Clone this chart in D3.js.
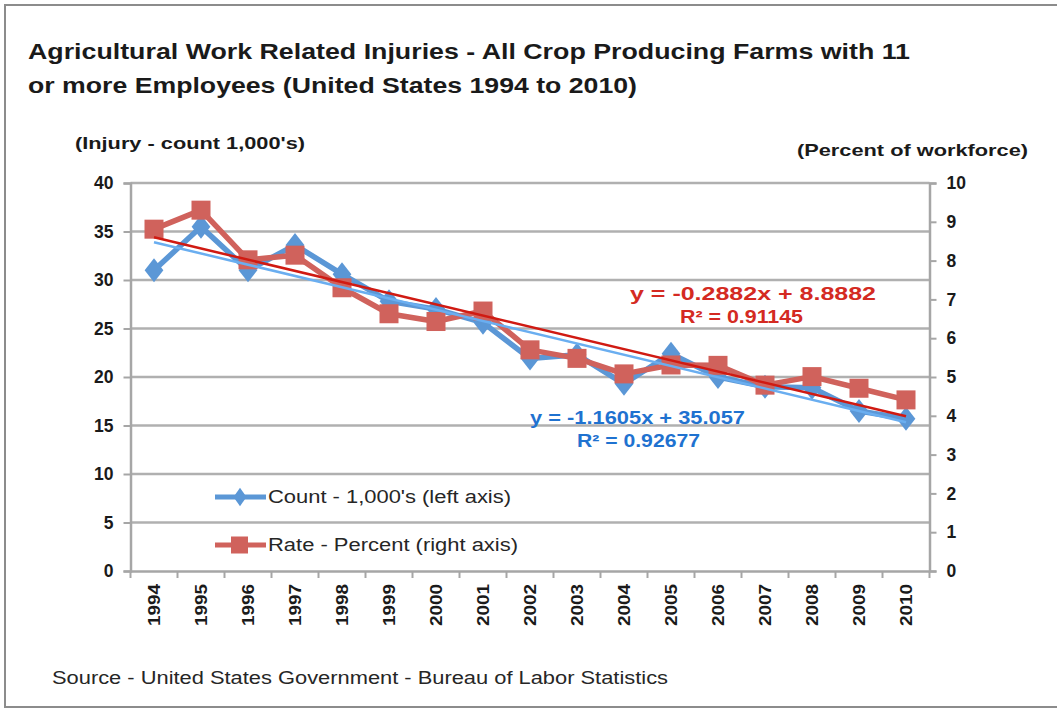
<!DOCTYPE html>
<html>
<head>
<meta charset="utf-8">
<script src="https://cdn.jsdelivr.net/npm/d3@7"></script>
<style>
  html, body { margin: 0; padding: 0; background: #fff; }
  svg { display: block; font-family: "Liberation Sans", Arial, Helvetica, sans-serif; }
</style>
</head>
<body>
<svg id="chart" width="1057" height="709"></svg>
<script>
// Crop farm injury data, 1994-2010
const years = ["1994","1995","1996","1997","1998","1999","2000","2001","2002",
               "2003","2004","2005","2006","2007","2008","2009","2010"];
const injuryCount = [31.0, 35.5, 31.0, 33.6, 30.6, 27.8, 27.0, 25.6, 21.9,
                     22.3, 19.3, 22.4, 20.0, 19.0, 18.9, 16.5, 15.7];
const injuryRate = [8.81, 9.30, 8.02, 8.14, 7.30, 6.63, 6.43, 6.70, 5.70,
                    5.48, 5.08, 5.31, 5.30, 4.79, 5.01, 4.71, 4.41];
const leftTicks = [0, 5, 10, 15, 20, 25, 30, 35, 40];
const rightTicks = [0, 1, 2, 3, 4, 5, 6, 7, 8, 9, 10];
// Linear trend coefficients (x = 1 for the first year)
const countTrend = { slope: -1.1605, intercept: 35.057, r2: "0.92677" };
const rateTrend = { slope: -0.2882, intercept: 8.8882, r2: "0.91145" };

const svg = d3.select("#chart");
const plot = { left: 130.5, right: 929.5, top: 183, bottom: 571 };

const x = d3.scaleBand().domain(years).range([plot.left, plot.right]);
const yL = d3.scaleLinear().domain([0, 40]).range([plot.bottom, plot.top]);
const yR = d3.scaleLinear().domain([0, 10]).range([plot.bottom, plot.top]);
const cx = d => x(d) + x.bandwidth() / 2;
// trend x-index (1-based) to pixel position
const xi = i => cx(years[0]) + (i - 1) * x.bandwidth();

const gridColor = "#b0b0b0";
const axisColor = "#a6a6a6";
const blue = "#5b97d6";
const red = "#d0625c";

// outer frame
svg.append("path")
  .attr("d", "M1057,5 H5 V707 H1057")
  .attr("fill", "none").attr("stroke", "#8c8c8c").attr("stroke-width", 2);

// fit text to a measured width
function fit(sel, w) {
  return sel.attr("textLength", w).attr("lengthAdjust", "spacingAndGlyphs");
}

// title
fit(svg.append("text").attr("x", 28).attr("y", 59)
  .attr("font-size", 22.5).attr("font-weight", "bold").attr("fill", "#1a1a1a")
  .text("Agricultural Work Related Injuries - All Crop Producing Farms with 11"), 882);
fit(svg.append("text").attr("x", 28).attr("y", 93)
  .attr("font-size", 22.5).attr("font-weight", "bold").attr("fill", "#1a1a1a")
  .text("or more Employees (United States 1994 to 2010)"), 609);

// axis titles
fit(svg.append("text").attr("x", 75).attr("y", 149)
  .attr("font-size", 16.5).attr("font-weight", "bold").attr("fill", "#1a1a1a")
  .text("(Injury - count 1,000's)"), 230);
fit(svg.append("text").attr("x", 797).attr("y", 156)
  .attr("font-size", 16.5).attr("font-weight", "bold").attr("fill", "#1a1a1a")
  .text("(Percent of workforce)"), 231);

// horizontal gridlines
svg.append("g").selectAll("line").data(leftTicks.filter(t => t > 0)).join("line")
  .attr("x1", plot.left).attr("x2", plot.right)
  .attr("y1", d => yL(d)).attr("y2", d => yL(d))
  .attr("stroke", gridColor).attr("stroke-width", 2.5);

// left axis
const gL = svg.append("g").attr("transform", `translate(${plot.left},0)`)
  .call(d3.axisLeft(yL).tickValues(leftTicks).tickSize(7).tickPadding(10));
// right axis
const gR = svg.append("g").attr("transform", `translate(${plot.right},0)`)
  .call(d3.axisRight(yR).tickValues(rightTicks).tickSize(7).tickPadding(10));
// bottom axis: ticks between categories
const gB = svg.append("g").attr("transform", `translate(0,${plot.bottom})`)
  .call(d3.axisBottom(x).tickSize(0).tickPadding(0));
gB.append("g").selectAll("line")
  .data(d3.range(years.length + 1)).join("line")
  .attr("x1", i => plot.left + i * x.bandwidth())
  .attr("x2", i => plot.left + i * x.bandwidth())
  .attr("y1", 0).attr("y2", 7)
  .attr("stroke", axisColor).attr("stroke-width", 2);

[gL, gR, gB].forEach(g => {
  g.select(".domain").attr("stroke", axisColor).attr("stroke-width", 2.5);
  g.selectAll(".tick line").attr("stroke", axisColor).attr("stroke-width", 2);
  g.selectAll("text").attr("font-family", "Liberation Sans, Arial, sans-serif")
    .attr("font-weight", "bold").attr("fill", "#1a1a1a");
});
gL.selectAll("text").attr("font-size", 17.5);
gR.selectAll("text").attr("font-size", 17.5);
gB.selectAll(".tick text")
  .attr("font-size", 17)
  .attr("transform", "rotate(-90)")
  .attr("text-anchor", "end")
  .attr("dy", "0.36em")
  .attr("x", -13).attr("y", 0)
  .attr("textLength", 42).attr("lengthAdjust", "spacingAndGlyphs");

// series lines
const lineCount = d3.line().x((d, i) => cx(years[i])).y(d => yL(d));
const lineRate = d3.line().x((d, i) => cx(years[i])).y(d => yR(d));

svg.append("path").datum(injuryCount).attr("d", lineCount)
  .attr("fill", "none").attr("stroke", blue).attr("stroke-width", 5.5)
  .attr("stroke-linejoin", "round");
svg.append("g").selectAll("path").data(injuryCount).join("path")
  .attr("d", d3.symbol(d3.symbolDiamond, 230))
  .attr("transform", (d, i) => `translate(${cx(years[i])},${yL(d)}) scale(1.15,0.85)`)
  .attr("fill", blue);

svg.append("path").datum(injuryRate).attr("d", lineRate)
  .attr("fill", "none").attr("stroke", red).attr("stroke-width", 5.5)
  .attr("stroke-linejoin", "round");
svg.append("g").selectAll("rect").data(injuryRate).join("rect")
  .attr("x", (d, i) => cx(years[i]) - 9.5).attr("y", d => yR(d) - 9.5)
  .attr("width", 19).attr("height", 19)
  .attr("fill", red);

// trend lines
const n = years.length;
svg.append("line")
  .attr("x1", xi(1)).attr("y1", yL(countTrend.intercept + countTrend.slope * 1))
  .attr("x2", xi(n)).attr("y2", yL(countTrend.intercept + countTrend.slope * n))
  .attr("stroke", "#6aaef0").attr("stroke-width", 2.5);
svg.append("line")
  .attr("x1", xi(1)).attr("y1", yR(rateTrend.intercept + rateTrend.slope * 1))
  .attr("x2", xi(n)).attr("y2", yR(rateTrend.intercept + rateTrend.slope * n))
  .attr("stroke", "#d01a12").attr("stroke-width", 2.5);

// trend equations
const eqRed = "#d42a22", eqBlue = "#1f72d0";
fit(svg.append("text").attr("x", 630).attr("y", 300)
  .attr("font-size", 17.5).attr("font-weight", "bold").attr("fill", eqRed)
  .text(`y = ${rateTrend.slope}x + ${rateTrend.intercept}`), 246);
fit(svg.append("text").attr("x", 680).attr("y", 323)
  .attr("font-size", 17.5).attr("font-weight", "bold").attr("fill", eqRed)
  .text(`R² = ${rateTrend.r2}`), 123);
fit(svg.append("text").attr("x", 530).attr("y", 424)
  .attr("font-size", 17.5).attr("font-weight", "bold").attr("fill", eqBlue)
  .text(`y = ${countTrend.slope}x + ${countTrend.intercept}`), 215);
fit(svg.append("text").attr("x", 577).attr("y", 447)
  .attr("font-size", 17.5).attr("font-weight", "bold").attr("fill", eqBlue)
  .text(`R² = ${countTrend.r2}`), 123);

// legend
const legend = svg.append("g");
const legendItems = [
  { label: "Count - 1,000's (left axis)", color: blue, shape: "diamond", y: 497, w: 243 },
  { label: "Rate - Percent (right axis)", color: red, shape: "square", y: 545, w: 250 }
];
legendItems.forEach(it => {
  legend.append("line").attr("x1", 215).attr("x2", 266)
    .attr("y1", it.y).attr("y2", it.y)
    .attr("stroke", it.color).attr("stroke-width", 5);
  if (it.shape === "diamond") {
    legend.append("path").attr("d", d3.symbol(d3.symbolDiamond, 120))
      .attr("transform", `translate(240,${it.y}) scale(1.1,0.9)`).attr("fill", it.color);
  } else {
    legend.append("rect").attr("x", 231).attr("y", it.y - 8.5)
      .attr("width", 17).attr("height", 17).attr("fill", it.color);
  }
  fit(legend.append("text").attr("x", 268).attr("y", it.y + 6)
    .attr("font-size", 17.5).attr("fill", "#262626").text(it.label), it.w);
});

// source note
fit(svg.append("text").attr("x", 52).attr("y", 684)
  .attr("font-size", 17.5).attr("fill", "#262626")
  .text("Source - United States Government - Bureau of Labor Statistics"), 616);
</script>
</body>
</html>
